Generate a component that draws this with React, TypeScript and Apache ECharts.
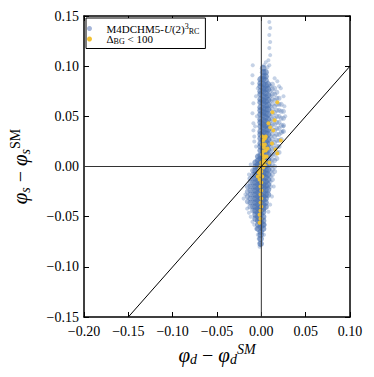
import React, { useEffect, useRef } from 'react';
import * as echarts from 'echarts';

const BLUE = 'M4DCHM5';
const YELLOW = 'DeltaBG';

// x ticks / y ticks
const xMin = -0.2, xMax = 0.1, yMin = -0.15, yMax = 0.15, step = 0.05;

// dense core of the blue cloud (columns: x, list of y)
const coreXs = [-0.0008, 0.002, 0.0048, 0.0075, -0.0035, -0.0065];
const coreYs: number[][] = [
  [0.087, 0.083, 0.080, 0.075, 0.072, 0.067, 0.064, 0.059, 0.056, 0.052, 0.047, 0.044, 0.040, 0.035, 0.032, 0.028, 0.023, 0.020, 0.016, 0.011, 0.008, 0.004, 0.000, -0.005, -0.008, -0.012, -0.017, -0.020, -0.024, -0.029, -0.032, -0.036, -0.041, -0.044, -0.048, -0.053, -0.056, -0.060, -0.065, -0.068, -0.072, -0.077],
  [0.098, 0.094, 0.090, 0.087, 0.082, 0.078, 0.075, 0.070, 0.066, 0.063, 0.058, 0.054, 0.051, 0.046, 0.042, 0.039, 0.034, 0.030, 0.027, 0.022, 0.018, 0.015, 0.010, 0.006, 0.003, -0.002, -0.006, -0.009, -0.014, -0.018, -0.021, -0.026, -0.030, -0.033, -0.038, -0.042, -0.045, -0.050, -0.054, -0.058, -0.062],
  [0.094, 0.090, 0.086, 0.081, 0.077, 0.073, 0.069, 0.065, 0.061, 0.057, 0.053, 0.049, 0.045, 0.041, 0.037, 0.033, 0.029, 0.025, 0.021, 0.017, 0.013, 0.009, 0.005, 0.001, -0.003, -0.007, -0.011, -0.015, -0.019, -0.023, -0.028, -0.032, -0.036, -0.040],
  [0.082, 0.077, 0.071, 0.066, 0.061, 0.057, 0.052, 0.047, 0.042, 0.037, 0.032, 0.027, 0.022, 0.017, 0.012, 0.007, 0.002, -0.003, -0.008, -0.013, -0.018, -0.023, -0.028],
  [0.010, 0.006, 0.002, -0.002, -0.006, -0.010, -0.014, -0.018, -0.022, -0.026, -0.030, -0.034, -0.038, -0.042, -0.046, -0.050, -0.054, -0.058, -0.062],
  [0.004, 0.000, -0.004, -0.008, -0.012, -0.016, -0.020, -0.024, -0.028, -0.032, -0.036, -0.040, -0.044, -0.048, -0.052],
];

// lower-left lobe
const lobeXs = [-0.0095, -0.0125, -0.0155];
const lobeYs: number[][] = [
  [-0.004, -0.008, -0.012, -0.016, -0.020, -0.024, -0.028, -0.032, -0.036, -0.040, -0.044],
  [-0.012, -0.016, -0.020, -0.024, -0.028, -0.032, -0.036, -0.040],
  [-0.020, -0.025, -0.030, -0.035],
];

// right wing (lighter)
const wingXs = [0.010, 0.0125, 0.015, 0.0175, 0.020, 0.0225, 0.025];
const wingYs: number[][] = [
  [0.080, 0.075, 0.070, 0.065, 0.060, 0.055, 0.050, 0.045, 0.040, 0.035, 0.030, 0.025, 0.020, 0.015, 0.010, 0.005, 0.000, -0.005, -0.010, -0.015, -0.020],
  [0.082, 0.077, 0.072, 0.067, 0.062, 0.057, 0.052, 0.047, 0.042, 0.037, 0.032, 0.027, 0.022, 0.017, 0.012, 0.007, 0.002, -0.003, -0.008, -0.013],
  [0.078, 0.072, 0.066, 0.060, 0.054, 0.048, 0.042, 0.036, 0.030, 0.024, 0.018, 0.012, 0.006, 0.000, -0.005],
  [0.074, 0.068, 0.062, 0.056, 0.050, 0.044, 0.038, 0.032, 0.026, 0.020, 0.014, 0.008],
  [0.068, 0.062, 0.056, 0.050, 0.044, 0.038, 0.032, 0.026, 0.020, 0.014],
  [0.062, 0.055, 0.048, 0.041, 0.034, 0.027],
  [0.055, 0.048, 0.041, 0.035],
];

// scattered blue outliers
const blueStray: [number, number][] = [
  [0.009, 0.144], [0.010, 0.138], [0.009, 0.131], [0.010, 0.124], [0.009, 0.118], [0.010, 0.111], [0.008, 0.106], [0.009, 0.101],
  [0.005, 0.104], [0.007, 0.099], [0.003, 0.101],
  [-0.0097, 0.101], [-0.010, 0.091], [-0.010, 0.083], [-0.009, 0.063], [-0.010, 0.053], [-0.009, 0.043], [-0.009, 0.036],
  [-0.008, 0.030], [-0.007, 0.040], [-0.008, 0.025], [-0.006, 0.020], [-0.005, 0.050], [-0.006, 0.070], [-0.004, 0.078],
  [0.018, 0.085], [0.020, 0.080], [0.022, 0.078], [0.015, 0.088], [0.025, 0.070], [0.026, 0.060], [0.027, 0.050], [0.025, 0.040], [0.024, 0.035],
  [-0.018, -0.028], [-0.020, -0.032], [-0.016, -0.042], [-0.014, -0.046], [-0.012, -0.050], [-0.010, -0.055], [-0.008, -0.058],
  [-0.006, -0.062], [-0.004, -0.068], [-0.003, -0.072], [-0.002, -0.076], [-0.002, -0.080], [-0.001, -0.078], [0.003, -0.068],
  [0.004, -0.058], [0.008, -0.045], [0.010, -0.038], [0.012, -0.030], [0.014, -0.020], [-0.014, -0.008], [-0.012, 0.002],
];

// Delta_BG < 100 points
const yellowPts: [number, number][] = [
  [0.001, 0.030], [0.002, 0.026], [0.001, 0.022], [0.003, 0.019], [0.002, 0.015], [0.001, 0.012], [0.003, 0.009], [0.002, 0.006],
  [0.000, 0.004], [0.001, 0.002], [-0.001, 0.000], [0.002, -0.001], [0.004, 0.001], [-0.002, -0.003], [0.000, -0.005], [-0.003, -0.006],
  [-0.001, -0.008], [0.001, -0.010], [-0.004, -0.010], [-0.002, -0.013], [0.000, -0.016], [-0.001, -0.020], [0.000, -0.024],
  [-0.001, -0.028], [0.000, -0.032], [-0.001, -0.036], [0.000, -0.040], [-0.001, -0.044], [-0.002, -0.048], [-0.001, -0.052], [-0.002, -0.056],
  [0.004, 0.028], [0.004, 0.022], [0.005, 0.016], [0.004, 0.010], [0.004, 0.005],
  [0.018, 0.064], [0.0125, 0.054], [0.015, 0.046], [0.010, 0.039], [0.0135, 0.036], [0.008, 0.043], [0.012, 0.023], [0.022, 0.026],
  [0.016, 0.017], [0.018, 0.013], [0.007, 0.018], [0.005, 0.030], [0.006, 0.010], [0.009, 0.004],
];

const diagonal: [number, number][] = [[-0.15, -0.15], [0.1, 0.1]];
const hLine: [number, number][] = [[-0.2, 0], [0.1, 0]];
const vLine: [number, number][] = [[0, -0.15], [0, 0.15]];

const cols = (xs: number[], ys: number[][]) => xs.flatMap((x, i) => ys[i].map((y) => [x, y]));

const FONT = 'Liberation Serif';
const fmt = (v: number) => (Math.abs(v) < 1e-9 ? '0.00' : v.toFixed(2).replace('-', '\u2212'));

export default function App() {
  const ref = useRef<HTMLDivElement>(null);
  useEffect(() => {
    const chart = echarts.init(ref.current!, null, { renderer: 'svg' });
    const axisCommon = {
      type: 'value' as const,
      interval: step,
      axisLine: { show: true, onZero: false, lineStyle: { color: '#000', width: 1.5 } },
      axisTick: { show: true, inside: true, length: 5, lineStyle: { color: '#000', width: 1 } },
      splitLine: { show: false },
    };
    const nameRich = {
      n: { fontFamily: FONT, fontSize: 20, lineHeight: 24, color: '#000' },
      i: { fontFamily: FONT, fontSize: 21, fontStyle: 'italic', lineHeight: 24, color: '#000' },
      sub: { fontFamily: FONT, fontSize: 14, fontStyle: 'italic', lineHeight: 12, verticalAlign: 'bottom', color: '#000' },
      sup: { fontFamily: FONT, fontSize: 14, fontStyle: 'italic', lineHeight: 12, verticalAlign: 'top', color: '#000' },
      supR: { fontFamily: FONT, fontSize: 14, lineHeight: 12, verticalAlign: 'top', color: '#000' },
    };
    const legRich = {
      n: { fontFamily: FONT, fontSize: 11, lineHeight: 13, color: '#000' },
      i: { fontFamily: FONT, fontSize: 11, fontStyle: 'italic', lineHeight: 13, color: '#000' },
      sup: { fontFamily: FONT, fontSize: 8, lineHeight: 7, verticalAlign: 'top', color: '#000' },
      sub: { fontFamily: FONT, fontSize: 8, lineHeight: 7, verticalAlign: 'bottom', color: '#000' },
    };
    chart.setOption({
      animation: false,
      backgroundColor: '#fff',
      grid: { left: 82, top: 16, width: 268, height: 301 },
      legend: {
        orient: 'vertical',
        left: 86,
        top: 18,
        padding: [4, 6, 3, 1],
        itemWidth: 24,
        itemHeight: 5,
        itemGap: -1.5,
        backgroundColor: '#fff',
        borderColor: '#000',
        borderWidth: 1,
        borderRadius: 0,
        icon: 'circle',
        selectedMode: false,
        data: [
          { name: BLUE, itemStyle: { color: '#a6b6da', opacity: 1 } },
          { name: YELLOW, itemStyle: { color: '#f3c232', opacity: 1 } },
        ],
        formatter: (name: string) =>
          name === BLUE ? '{n|M4DCHM5-}{i|U}{n|(2)}{sup|3}{sub|RC}' : '{n|\u0394}{sub|BG}{n| < 100}',
        textStyle: { fontFamily: FONT, fontSize: 11, color: '#000', rich: legRich },
      },
      xAxis: [
        {
          ...axisCommon,
          min: xMin,
          max: xMax,
          position: 'bottom',
          axisLabel: { show: true, margin: 7, fontFamily: FONT, fontSize: 14, color: '#000', formatter: fmt },
          name: '{i|\u03c6}{sub|d}{n| \u2212 }{i|\u03c6}{sub|d}{sup|SM}',
          nameLocation: 'middle',
          nameGap: 20,
          nameTextStyle: { rich: nameRich },
        },
        { ...axisCommon, min: xMin, max: xMax, position: 'top', axisLabel: { show: false } },
      ],
      yAxis: [
        {
          ...axisCommon,
          min: yMin,
          max: yMax,
          position: 'left',
          axisLabel: { show: true, margin: 5, fontFamily: FONT, fontSize: 14, color: '#000', formatter: fmt },
          name: '{i|\u03c6}{sub|s}{n| \u2212 }{i|\u03c6}{sub|s}{supR|SM}',
          nameLocation: 'middle',
          nameGap: 52,
          nameTextStyle: { rich: nameRich },
        },
        { ...axisCommon, min: yMin, max: yMax, position: 'right', axisLabel: { show: false } },
      ],
      series: [
        { name: BLUE, type: 'scatter', data: cols(wingXs, wingYs), symbolSize: 5, itemStyle: { color: '#4c72b0', opacity: 0.35 }, silent: true, z: 2 },
        { name: BLUE, type: 'scatter', data: cols(lobeXs, lobeYs), symbolSize: 5.5, itemStyle: { color: '#4c72b0', opacity: 0.45 }, silent: true, z: 2 },
        { name: BLUE, type: 'scatter', data: blueStray, symbolSize: 4, itemStyle: { color: '#4c72b0', opacity: 0.32 }, silent: true, z: 2 },
        { name: BLUE, type: 'scatter', data: cols(coreXs, coreYs), symbolSize: 6.5, itemStyle: { color: '#4c72b0', opacity: 0.62 }, silent: true, z: 3 },
        { name: YELLOW, type: 'scatter', data: yellowPts, symbolSize: 4, itemStyle: { color: '#f3c232', opacity: 0.95 }, silent: true, z: 4 },
        { type: 'line', data: hLine, symbol: 'none', lineStyle: { color: '#333', width: 1 }, silent: true, z: 5 },
        { type: 'line', data: vLine, symbol: 'none', lineStyle: { color: '#333', width: 1 }, silent: true, z: 5 },
        { type: 'line', data: diagonal, symbol: 'none', lineStyle: { color: '#000', width: 1 }, silent: true, z: 6 },
      ],
    });
    return () => chart.dispose();
  }, []);
  return <div ref={ref} style={{ position: 'fixed', left: 0, top: 0, width: 374, height: 377, background: '#fff' }} />;
}
